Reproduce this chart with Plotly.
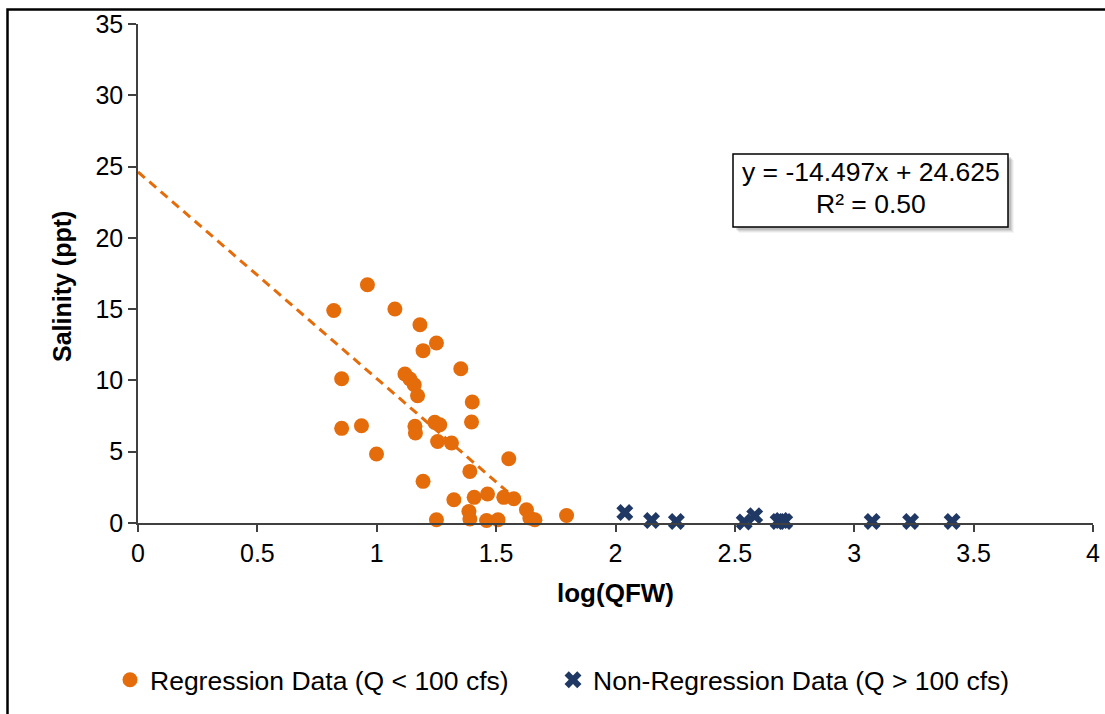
import plotly.graph_objects as go

# Regression data (Q < 100 cfs)
reg_x = [0.820, 0.961, 1.076, 1.181, 1.250, 1.194, 1.352, 0.853, 1.118, 1.139,
         1.157, 1.171, 1.400, 1.397, 0.853, 0.936, 1.160, 1.162, 1.243, 1.264,
         1.255, 1.313, 0.999, 1.553, 1.390, 1.194, 1.323, 1.408, 1.464, 1.532,
         1.574, 1.386, 1.390, 1.627, 1.641, 1.662, 1.250, 1.460, 1.508, 1.795]
reg_y = [14.91, 16.71, 15.01, 13.91, 12.63, 12.09, 10.82, 10.12, 10.45, 10.10,
         9.70, 8.93, 8.49, 7.08, 6.64, 6.82, 6.78, 6.31, 7.06, 6.89,
         5.72, 5.61, 4.84, 4.51, 3.62, 2.92, 1.63, 1.80, 2.03, 1.80,
         1.70, 0.81, 0.28, 0.93, 0.35, 0.23, 0.23, 0.18, 0.23, 0.53]

# Non-regression data (Q > 100 cfs)
non_x = [2.039, 2.151, 2.255, 2.539, 2.583, 2.681, 2.695, 2.709, 3.075, 3.236, 3.410]
non_y = [0.74, 0.18, 0.11, 0.07, 0.51, 0.11, 0.18, 0.11, 0.11, 0.11, 0.11]

# Trendline (linear fit shown on the chart)
slope = -14.497
intercept = 24.625
r2_label = "0.50"
trend_x = [0.0, max(reg_x)]
trend_y = [intercept + slope * v for v in trend_x]

orange = "#E46C0A"
navy = "#1F3864"
axis_col = "#404040"
font_family = "Liberation Sans, Arial, sans-serif"

W, H = 1105, 714
ml, mt = 138, 24
mr = W - 1093
mb = H - 523
pw = W - ml - mr
ph = H - mt - mb


def px_x(p):
    return (p - ml) / pw


def px_y(p):
    return (H - mb - p) / ph


fig = go.Figure()
fig.add_trace(go.Scatter(
    x=trend_x, y=trend_y, mode="lines", showlegend=False, hoverinfo="skip",
    line=dict(color=orange, width=3, dash="9px,6px"),
))
fig.add_trace(go.Scatter(
    x=reg_x, y=reg_y, mode="markers", name="Regression Data (Q < 100 cfs)",
    marker=dict(symbol="circle", size=15, color=orange),
    cliponaxis=False, legend="legend",
))
fig.add_trace(go.Scatter(
    x=non_x, y=non_y, mode="markers", name="Non-Regression Data (Q > 100 cfs)",
    marker=dict(symbol="x", size=15, color=navy, line=dict(width=0)),
    cliponaxis=False, legend="legend2",
))

shapes = [
    dict(type="rect", xref="paper", yref="paper",
         x0=px_x(7.5), x1=px_x(1140), y0=px_y(760), y1=px_y(9.5),
         line=dict(color="black", width=2.5), fillcolor="rgba(0,0,0,0)", layer="below"),
]
for off, a in [(6, 0.04), (5, 0.06), (4, 0.08), (3, 0.10)]:
    shapes.append(dict(type="rect", xref="paper", yref="paper",
                       x0=px_x(733 + off), x1=px_x(1008 + off),
                       y0=px_y(227 + off), y1=px_y(154 + off),
                       line=dict(width=0), fillcolor=f"rgba(0,0,0,{a})"))
shapes.append(dict(type="rect", xref="paper", yref="paper",
                   x0=px_x(733), x1=px_x(1008), y0=px_y(227), y1=px_y(154),
                   line=dict(color="black", width=1.5), fillcolor="white"))

leg_font = dict(size=26.5, color="black", family=font_family)
eq_font = dict(size=26.5, color="black", family=font_family)
fig.update_layout(
    width=W, height=H,
    margin=dict(l=ml, r=mr, t=mt, b=mb, autoexpand=False),
    paper_bgcolor="white", plot_bgcolor="white",
    font=dict(family=font_family, color="black", size=25),
    shapes=shapes,
    showlegend=True,
    legend=dict(orientation="h", x=px_x(110), xanchor="left", y=px_y(680), yanchor="middle",
                font=leg_font, itemwidth=30, bgcolor="rgba(0,0,0,0)"),
    legend2=dict(orientation="h", x=px_x(553), xanchor="left", y=px_y(680), yanchor="middle",
                 font=leg_font, itemwidth=30, bgcolor="rgba(0,0,0,0)"),
    annotations=[
        dict(xref="paper", yref="paper", x=px_x(870.5), y=px_y(172), xanchor="center",
             yanchor="middle", text=f"y = {slope}x + {intercept}", showarrow=False, font=eq_font),
        dict(xref="paper", yref="paper", x=px_x(870.5), y=px_y(204), xanchor="center",
             yanchor="middle", text=f"R² = {r2_label}", showarrow=False, font=eq_font),
        dict(xref="paper", yref="paper", x=px_x(62), y=px_y(287), xanchor="center",
             yanchor="middle", text="<b>Salinity (ppt)</b>", textangle=-90, showarrow=False,
             font=dict(size=25, color="black", family=font_family)),
    ],
)
fig.update_xaxes(
    range=[0, 4], dtick=0.5, tick0=0, showgrid=False, zeroline=False, automargin=False,
    showline=True, linecolor=axis_col, linewidth=1.5,
    ticks="outside", ticklen=7, tickwidth=1.5, tickcolor=axis_col,
    tickfont=dict(size=25), title=dict(text="<b>log(QFW)</b>", font=dict(size=26), standoff=18),
)
fig.update_yaxes(
    range=[0, 35], dtick=5, tick0=0, showgrid=False, zeroline=False, automargin=False,
    showline=True, linecolor=axis_col, linewidth=1.5,
    ticks="outside", ticklen=8, tickwidth=1.5, tickcolor=axis_col,
    tickfont=dict(size=25),
)

fig.write_html("out.html", config={"displayModeBar": False},
               post_script="document.body.style.margin='0';")
